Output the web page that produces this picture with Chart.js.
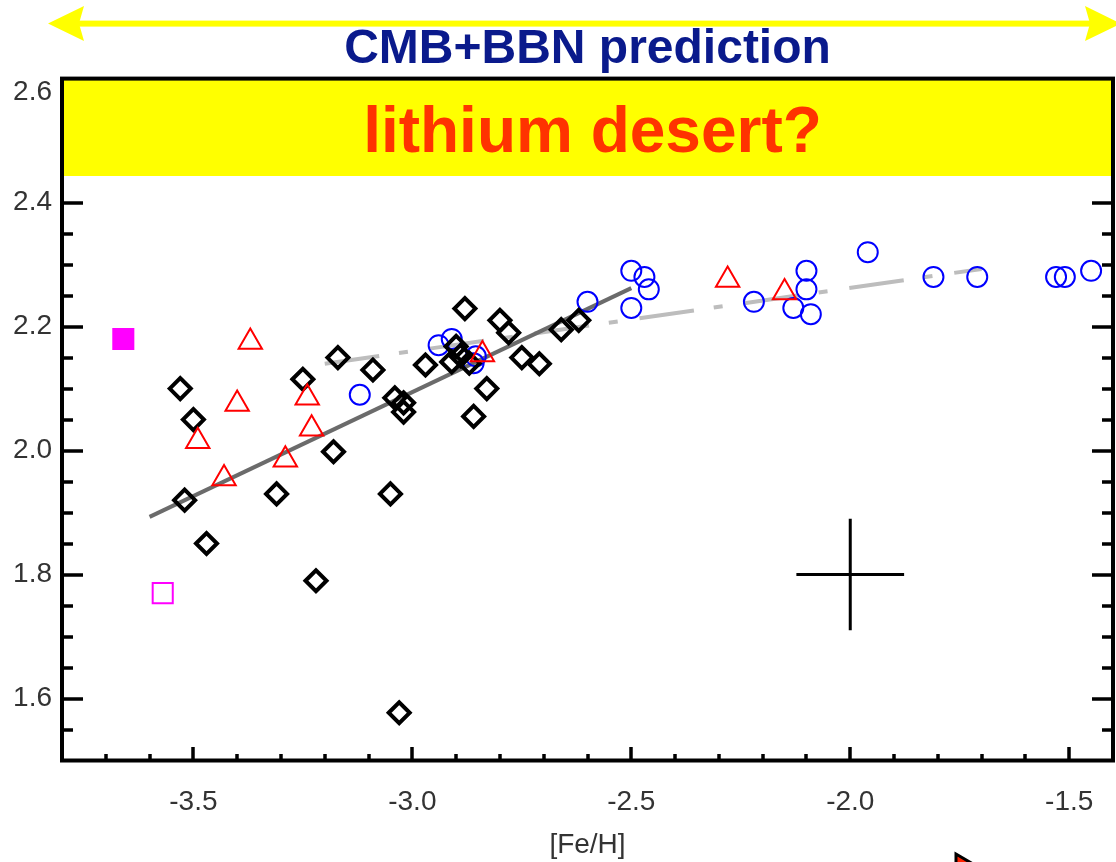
<!DOCTYPE html>
<html lang="en">
<head>
<meta charset="UTF-8">
<title>Li x [Fe/H]</title>
<script src="https://cdn.jsdelivr.net/npm/chart.js@4.4.0/dist/chart.umd.min.js"></script>
<style>
    html, body { margin: 0; padding: 0; background: #ffffff; }
    #caixa_grafico { width: 1116px; height: 862px; position: relative; }
</style>
</head>
<body>
<div id="caixa_grafico"><canvas id="graficoLitio"></canvas></div>
<script>
// estrelas (losangos pretos)
const losangoX = [-3.53, -3.50, -3.52, -3.47, -3.25, -3.17, -3.31, -3.18, -3.22, -3.09,
    -3.05, -3.04, -3.02, -3.02, -3.03, -2.97, -2.88, -2.90, -2.91, -2.89,
    -2.87, -2.80, -2.78, -2.75, -2.71, -2.83, -2.86, -2.66, -2.62]
const losangoY = [2.100, 2.050, 1.920, 1.850, 2.115, 2.150, 1.930, 1.998, 1.790, 2.130,
    1.930, 2.085, 2.077, 2.062, 1.577, 2.138, 2.229, 2.168, 2.143, 2.153,
    2.141, 2.210, 2.190, 2.150, 2.140, 2.100, 2.055, 2.195, 2.210]

// triangulos vermelhos
const trianguloX = [-3.37, -3.40, -3.49, -3.24, -3.23, -3.29, -3.43, -2.84, -2.28, -2.15]
const trianguloY = [2.175, 2.075, 2.015, 2.085, 2.035, 1.985, 1.955, 2.155, 2.275, 2.255]

// circulos azuis
const circuloX = [-3.12, -2.94, -2.91, -2.855, -2.86, -2.60, -2.50, -2.47, -2.46, -2.50, -2.22,
    -2.10, -2.10, -2.13, -2.09, -1.96, -1.81, -1.71, -1.53, -1.51, -1.45]
const circuloY = [2.090, 2.170, 2.180, 2.152, 2.141, 2.240, 2.290, 2.280, 2.260, 2.230, 2.240,
    2.290, 2.260, 2.230, 2.220, 2.320, 2.280, 2.280, 2.280, 2.280, 2.290]

// quadrados magenta (cheio e vazio)
const quadCheioX = [-3.66]
const quadCheioY = [2.18]
const quadVazioX = [-3.57]
const quadVazioY = [1.77]

// retas de ajuste
const ajusteX = [-3.6, -2.5]
const ajusteY = [1.893, 2.262]
const platoX = [-3.2, -1.7]
const platoY = [2.140, 2.293]

// barra de erro tipica
const erroX = -2.0
const erroY = 1.8
const erroDx = 0.123
const erroDy = 0.09

// faixa amarela
const faixaMin = 2.443
const faixaMax = 2.6

// eixos
const xMin = -3.8, xMax = -1.4
const yMin = 1.5, yMax = 2.6
const xTicks = [-3.5, -3.0, -2.5, -2.0, -1.5]
const yTicks = [1.6, 1.8, 2.0, 2.2, 2.4, 2.6]

const tituloTopo = 'CMB+BBN prediction'
const textoDeserto = 'lithium desert?'
const tituloX = '[Fe/H]'

const fonte = "'Liberation Sans', Arial, Helvetica, sans-serif"

function pontos(xs, ys) {
    return xs.map((x, i) => ({ x: x, y: ys[i] }))
}

// moldura com os tracinhos para dentro (maiores e menores)
const moldura = {
    id: 'moldura',
    afterDatasetsDraw(chart) {
        const ctx = chart.ctx
        const area = chart.chartArea
        const sx = chart.scales.x
        const sy = chart.scales.y
        ctx.save()
        ctx.strokeStyle = '#000000'
        ctx.lineWidth = 3.5
        ctx.beginPath()
        for (let i = 0; i <= Math.round((yMax - yMin) / 0.05); i++) {
            const v = yMin + i * 0.05
            if (v <= yMin + 1e-6 || v > faixaMin) continue
            const maior = Math.abs(v / 0.2 - Math.round(v / 0.2)) < 1e-6
            const tam = maior ? 21 : 11
            const py = Math.round(sy.getPixelForValue(v))
            ctx.moveTo(area.left, py)
            ctx.lineTo(area.left + tam, py)
            ctx.moveTo(area.right, py)
            ctx.lineTo(area.right - tam, py)
        }
        for (let i = 1; i < Math.round((xMax - xMin) / 0.1); i++) {
            const v = xMin + i * 0.1
            const maior = Math.abs(v / 0.5 - Math.round(v / 0.5)) < 1e-6
            const tam = maior ? 13.5 : 6.5
            const px = Math.round(sx.getPixelForValue(v))
            ctx.moveTo(px, area.bottom)
            ctx.lineTo(px, area.bottom - tam)
        }
        ctx.stroke()

        ctx.lineWidth = 4
        ctx.strokeRect(area.left, area.top, area.right - area.left, area.bottom - area.top)

        // texto da faixa amarela
        const yMeio = (sy.getPixelForValue(faixaMin) + sy.getPixelForValue(faixaMax)) / 2
        ctx.font = 'bold 64px ' + fonte
        ctx.fillStyle = '#ff3300'
        ctx.textAlign = 'center'
        ctx.textBaseline = 'alphabetic'
        ctx.fillText(textoDeserto, (area.left + area.right) / 2 + 5, yMeio + 25)
        ctx.restore()
    }
}

// seta amarela dupla em cima do titulo
const setaAmarela = {
    id: 'setaAmarela',
    afterDraw(chart) {
        const ctx = chart.ctx
        const area = chart.chartArea
        const y = area.top - 55
        const xe = area.left - 14
        const xd = area.right + 8
        ctx.save()
        ctx.fillStyle = '#ffff00'
        ctx.fillRect(xe + 28, y - 3, xd - xe - 56, 6)
        ctx.beginPath()
        ctx.moveTo(xe, y)
        ctx.lineTo(xe + 36, y - 17.5)
        ctx.lineTo(xe + 31, y)
        ctx.lineTo(xe + 36, y + 17.5)
        ctx.closePath()
        ctx.moveTo(xd, y)
        ctx.lineTo(xd - 36, y - 17.5)
        ctx.lineTo(xd - 31, y)
        ctx.lineTo(xd - 36, y + 17.5)
        ctx.closePath()
        ctx.fill()

        // pedacinho do cursor vermelho no rodape
        const cx = area.left + 894
        const cy = chart.height - 8
        ctx.beginPath()
        ctx.moveTo(cx, cy)
        ctx.lineTo(cx + 34, cy + 20)
        ctx.lineTo(cx, cy + 40)
        ctx.closePath()
        ctx.fillStyle = '#ff2200'
        ctx.fill()
        ctx.lineWidth = 3
        ctx.strokeStyle = '#000000'
        ctx.stroke()
        ctx.restore()
    }
}

const transparente = 'rgba(0,0,0,0)'

const dados = {
    datasets: [
        {
            label: 'triangulos',
            data: pontos(trianguloX, trianguloY),
            pointStyle: 'triangle',
            pointRadius: 13.5,
            borderWidth: 2,
            borderColor: '#ff0000',
            backgroundColor: transparente,
            order: 1
        },
        {
            label: 'losangos',
            data: pontos(losangoX, losangoY),
            pointStyle: 'rectRot',
            pointRadius: 10.5,
            borderWidth: 4,
            borderColor: '#000000',
            backgroundColor: transparente,
            order: 2
        },
        {
            label: 'circulos',
            data: pontos(circuloX, circuloY),
            pointStyle: 'circle',
            pointRadius: 10,
            borderWidth: 2,
            borderColor: '#0000ff',
            backgroundColor: transparente,
            order: 3
        },
        {
            label: 'quadrado cheio',
            data: pontos(quadCheioX, quadCheioY),
            pointStyle: 'rect',
            pointRadius: 15.6,
            borderWidth: 0,
            backgroundColor: '#ff00ff',
            order: 4
        },
        {
            label: 'quadrado vazio',
            data: pontos(quadVazioX, quadVazioY),
            pointStyle: 'rect',
            pointRadius: 14.2,
            borderWidth: 2,
            borderColor: '#ff00ff',
            backgroundColor: transparente,
            order: 4
        },
        {
            label: 'erro x',
            data: [{ x: erroX - erroDx, y: erroY }, { x: erroX + erroDx, y: erroY }],
            showLine: true,
            pointRadius: 0,
            borderWidth: 3,
            borderColor: '#000000',
            order: 5
        },
        {
            label: 'erro y',
            data: [{ x: erroX, y: erroY - erroDy }, { x: erroX, y: erroY + erroDy }],
            showLine: true,
            pointRadius: 0,
            borderWidth: 3,
            borderColor: '#000000',
            order: 5
        },
        {
            label: 'ajuste',
            data: pontos(ajusteX, ajusteY),
            showLine: true,
            pointRadius: 0,
            borderWidth: 4,
            borderColor: '#6b6b6b',
            order: 6
        },
        {
            label: 'plato',
            data: pontos(platoX, platoY),
            showLine: true,
            pointRadius: 0,
            borderWidth: 4,
            borderColor: '#bdbdbd',
            borderDash: [55, 20, 9, 22],
            order: 6
        },
        {
            label: 'faixa',
            data: [{ x: xMin, y: faixaMax }, { x: xMax, y: faixaMax }],
            showLine: true,
            pointRadius: 0,
            borderWidth: 0,
            backgroundColor: '#ffff00',
            fill: { value: faixaMin },
            order: 7
        }
    ]
}

const config = {
    type: 'scatter',
    data: dados,
    options: {
        responsive: true,
        maintainAspectRatio: false,
        animation: false,
        devicePixelRatio: 1,
        layout: { autoPadding: false, padding: { left: 0, right: 3, top: 0, bottom: 0 } },
        plugins: {
            legend: { display: false },
            tooltip: { enabled: false },
            title: {
                display: true,
                text: tituloTopo,
                fullSize: false,
                color: '#0a1a8c',
                font: { family: fonte, size: 48, weight: 'bold', lineHeight: 1.2 },
                padding: { top: 21, bottom: 0 }
            }
        },
        scales: {
            x: {
                type: 'linear',
                min: xMin,
                max: xMax,
                grid: { display: false, drawTicks: false },
                border: { display: false },
                afterBuildTicks: (s) => { s.ticks = xTicks.map(v => ({ value: v })) },
                afterFit: (s) => {
                    s.height = 101.5
                    s.paddingLeft = 0
                    s.paddingRight = 0
                },
                ticks: {
                    color: '#333333',
                    padding: 25,
                    maxRotation: 0,
                    autoSkip: false,
                    font: { family: fonte, size: 28 },
                    callback: (v) => Number(v).toFixed(1)
                },
                title: {
                    display: true,
                    text: tituloX,
                    color: '#333333',
                    padding: 0,
                    font: { family: fonte, size: 28 }
                }
            },
            y: {
                type: 'linear',
                min: yMin,
                max: yMax,
                grid: { display: false, drawTicks: false },
                border: { display: false },
                afterBuildTicks: (s) => { s.ticks = yTicks.map(v => ({ value: v })) },
                afterFit: (s) => { s.width = 62 },
                ticks: {
                    color: '#333333',
                    padding: 10,
                    autoSkip: false,
                    font: { family: fonte, size: 28, lineHeight: 0.95 },
                    // o rotulo de cima fica um pouco abaixo da borda
                    callback: (v) => (v >= yMax - 1e-6) ? ['', Number(v).toFixed(1)] : Number(v).toFixed(1)
                }
            }
        }
    },
    plugins: [moldura, setaAmarela]
}

window.addEventListener('load', function () {
    const ctx = document.getElementById('graficoLitio').getContext('2d')
    new Chart(ctx, config)
})
</script>
</body>
</html>
